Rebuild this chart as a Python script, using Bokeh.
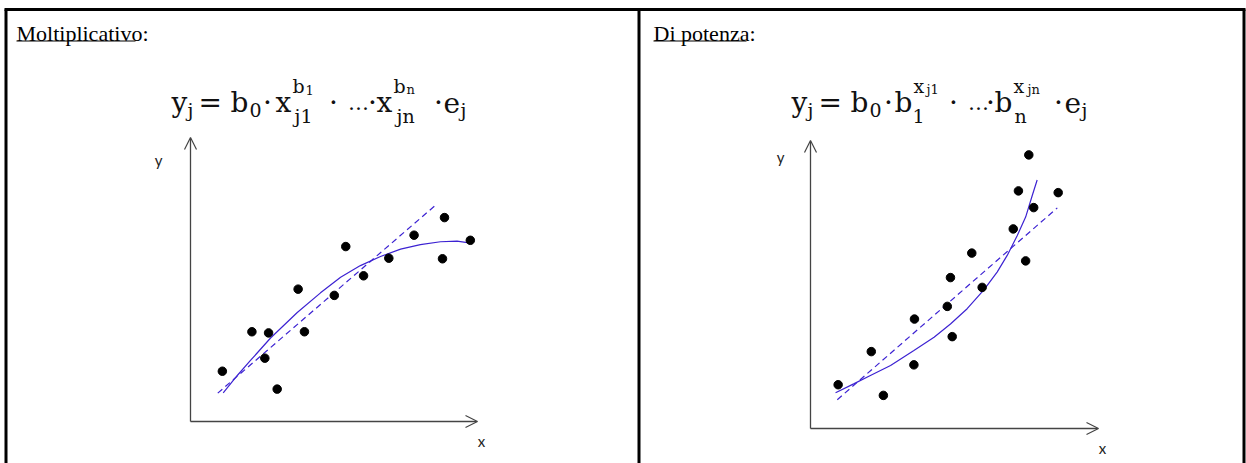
from bokeh.plotting import figure
from bokeh.models import Range1d, Label, Arrow, OpenHead
from bokeh.embed import file_html
from bokeh.resources import INLINE

# ---- data: multiplicative model (left panel) ----
mult_x = [1.11, 2.14, 2.72, 2.59, 3.02, 3.75, 3.97, 5.01, 5.41, 6.03, 6.91, 7.79, 8.85, 8.78, 9.75]
mult_y = [1.77, 3.16, 3.12, 2.23, 1.14, 4.66, 3.16, 4.44, 6.16, 5.13, 5.75, 6.56, 7.18, 5.73, 6.38]
mult_fit_x = [1.14, 1.63, 2.09, 2.79, 3.72, 4.53, 5.23, 5.92, 6.62, 7.32, 8.01, 8.71, 9.29, 9.70]
mult_fit_y = [1.01, 1.62, 2.15, 2.94, 3.84, 4.53, 5.08, 5.49, 5.81, 6.07, 6.23, 6.33, 6.35, 6.29]
mult_lin_x = [0.95, 8.60]
mult_lin_y = [1.00, 7.67]

# ---- data: power model (right panel) ----
pow_x = [0.96, 2.11, 2.53, 3.61, 3.59, 4.75, 4.86, 4.92, 5.60, 5.96, 7.04, 7.22, 7.47, 7.58, 7.75, 8.60]
pow_y = [1.52, 2.67, 1.15, 3.80, 2.21, 4.24, 5.24, 3.19, 6.09, 4.90, 6.93, 8.25, 5.82, 9.50, 7.67, 8.19]
pow_fit_x = [0.87, 1.50, 2.08, 2.78, 3.59, 4.29, 4.86, 5.44, 6.02, 6.48, 6.83, 7.18, 7.47, 7.70, 7.87]
pow_fit_y = [1.24, 1.55, 1.84, 2.19, 2.71, 3.17, 3.63, 4.16, 4.81, 5.43, 6.01, 6.70, 7.34, 8.09, 8.63]
pow_lin_x = [0.93, 8.57]
pow_lin_y = [1.00, 7.66]

AXIS_LEN = 10.0

W, H = 1246, 463
p = figure(width=W, height=H, output_backend="svg", toolbar_location=None,
           x_range=Range1d(0, W), y_range=Range1d(H, 0),
           x_axis_type=None, y_axis_type=None, min_border=0)
p.grid.visible = False
p.outline_line_color = None
p.background_fill_color = "white"
p.border_fill_color = "white"


def add_panel_ranges(name, ox, oy, ux, uy):
    """Extra ranges so that panel units (0..10) land on the panel's axes."""
    p.extra_x_ranges[name + "x"] = Range1d(-ox / ux, (W - ox) / ux)
    p.extra_y_ranges[name + "y"] = Range1d((oy - H) / uy, oy / uy)


add_panel_ranges("L", 190, 421, 28.7, 28.4)
add_panel_ranges("R", 810, 428, 28.8, 28.8)

# ---- frame of the two boxes ----
BLACK = "black"
p.segment(x0=[4, 5.5, 638.5, 1243.5], y0=[9, 9, 9, 9],
          x1=[1245, 5.5, 638.5, 1243.5], y1=[9, H, H, H],
          line_color=BLACK, line_width=3)

# ---- titles ----
for txt, x, ul_end in [("Moltiplicativo:", 16, 135), ("Di potenza:", 653, 746)]:
    p.add_layout(Label(x=x, y=33, text=txt, text_font="Liberation Serif",
                       text_font_size="22px", text_color="black",
                       text_baseline="alphabetic"))
    p.segment(x0=[x], y0=[40.5], x1=[ul_end], y1=[40.5], line_color="black", line_width=1)

# ---- formulas ----
MAIN, SUB, SS, ELL = "28px", "19px", "13px", "21px"
FONT = "DejaVu Serif"
BASE = 102
SUP_B, SUB_B, DSUB_B, SS_B = 85, 109, 115, 89


def t(x, y, s, size, align="left"):
    p.add_layout(Label(x=x, y=y, text=s, text_font=FONT, text_font_size=size,
                       text_color="#111111", text_align=align, text_baseline="alphabetic"))


# y_j = b_0 · x_j1^b1 · … · x_jn^bn · e_j
t(171, BASE, "y", MAIN); t(187, SUB_B, "j", SUB)
t(198, BASE, "=", MAIN)
t(230, BASE, "b", MAIN); t(249, SUB_B, "0", SUB)
t(267, BASE, "·", MAIN, "center")
t(275, BASE, "x", MAIN); t(292, SUP_B, "b", SUB); t(305, SS_B, "1", SS); t(294, DSUB_B, "j1", SUB)
t(333, BASE, "·", MAIN, "center")
t(358, BASE, "…", ELL, "center")
t(372, BASE, "·", MAIN, "center")
t(376, BASE, "x", MAIN); t(393, SUP_B, "b", SUB); t(406, SS_B, "n", SS); t(396, DSUB_B, "jn", SUB)
t(438, BASE, "·", MAIN, "center")
t(443, BASE, "e", MAIN); t(460, SUB_B, "j", SUB)

# y_j = b_0 · b_1^xj1 · … · b_n^xjn · e_j
t(791, BASE, "y", MAIN); t(807, SUB_B, "j", SUB)
t(818, BASE, "=", MAIN)
t(850, BASE, "b", MAIN); t(869, SUB_B, "0", SUB)
t(888, BASE, "·", MAIN, "center")
t(894, BASE, "b", MAIN); t(912, DSUB_B, "1", SUB); t(913, SUP_B, "x", SUB); t(926, SS_B, "j1", SS)
t(953, BASE, "·", MAIN, "center")
t(978, BASE, "…", ELL, "center")
t(990, BASE, "·", MAIN, "center")
t(994, BASE, "b", MAIN); t(1014, DSUB_B, "n", SUB); t(1013, SUP_B, "x", SUB); t(1027, SS_B, "jn", SS)
t(1058, BASE, "·", MAIN, "center")
t(1064, BASE, "e", MAIN); t(1081, SUB_B, "j", SUB)

# ---- panels ----
AXIS_COL = "#444444"
CURVE_COL = "#3c22d2"

panels = [
    ("L", mult_x, mult_y, mult_fit_x, mult_fit_y, mult_lin_x, mult_lin_y),
    ("R", pow_x, pow_y, pow_fit_x, pow_fit_y, pow_lin_x, pow_lin_y),
]
for name, px, py, fx, fy, lx, ly in panels:
    xr, yr = name + "x", name + "y"
    for xe, ye in [(AXIS_LEN, 0), (0, AXIS_LEN)]:
        p.add_layout(Arrow(x_start=0, y_start=0, x_end=xe, y_end=ye,
                           x_range_name=xr, y_range_name=yr,
                           line_color=AXIS_COL, line_width=1.3,
                           end=OpenHead(size=12, line_color=AXIS_COL, line_width=1.2)))
    p.line(lx, ly, x_range_name=xr, y_range_name=yr,
           line_color=CURVE_COL, line_width=1.2, line_dash="6 4")
    p.line(fx, fy, x_range_name=xr, y_range_name=yr,
           line_color=CURVE_COL, line_width=1.2)
    p.scatter(px, py, x_range_name=xr, y_range_name=yr,
              size=8.5, fill_color="black", line_color="black")

# axis letters
for s, x, y in [("y", 158, 159), ("x", 481, 440), ("y", 780, 156), ("x", 1102, 447)]:
    p.add_layout(Label(x=x, y=y, text=s, text_font="Lato", text_font_size="15px",
                       text_color="#222222", text_align="center", text_baseline="alphabetic"))

open("out.html", "w").write(file_html(p, INLINE))
